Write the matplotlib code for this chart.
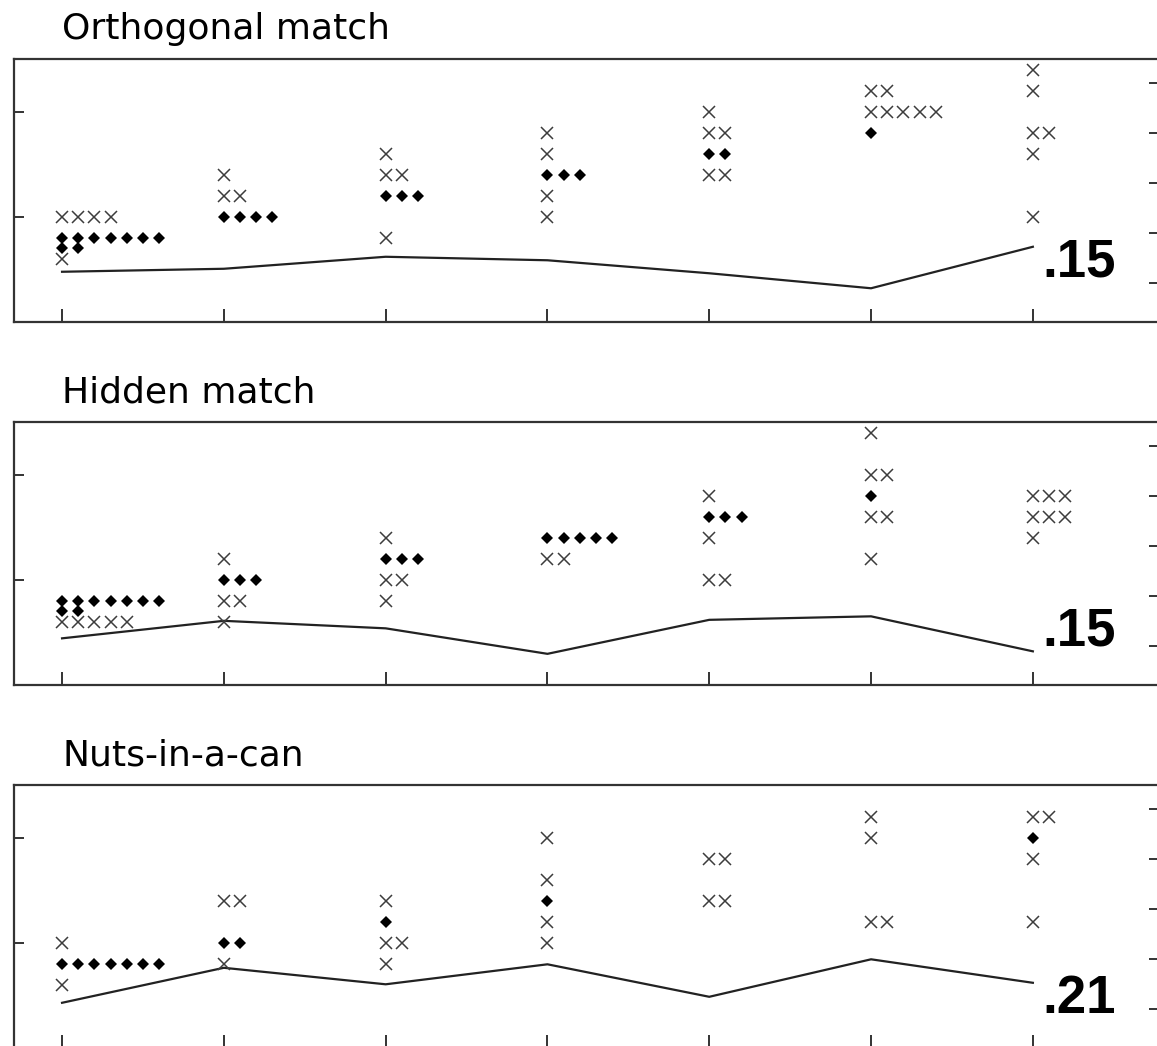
import numpy as np
import matplotlib
matplotlib.use("Agg")
import matplotlib.pyplot as plt
from matplotlib.transforms import blended_transform_factory

# seven conditions along the x axis
categories = [1, 2, 3, 4, 5, 6, 7]
panel_titles = ["Orthogonal match", "Hidden match", "Nuts-in-a-can"]
corr_labels = [".15", ".15", ".21"]

# gray crosses: (category, rating, how many side by side)
orth_cross = [(1, 4.0, 4), (1, 3.6, 1), (2, 4.4, 1), (2, 4.2, 2),
              (3, 4.6, 1), (3, 4.4, 2), (3, 3.8, 1),
              (4, 4.8, 1), (4, 4.6, 1), (4, 4.2, 1), (4, 4.0, 1),
              (5, 5.0, 1), (5, 4.8, 2), (5, 4.4, 2),
              (6, 5.2, 2), (6, 5.0, 5),
              (7, 5.4, 1), (7, 5.2, 1), (7, 4.8, 2), (7, 4.6, 1), (7, 4.0, 1)]
# black diamonds
orth_diam = [(1, 3.8, 7), (1, 3.7, 2), (2, 4.0, 4), (3, 4.2, 3),
             (4, 4.4, 3), (5, 4.6, 2), (6, 4.8, 1)]
orth_line = [1.23, 1.29, 1.53, 1.46, 1.20, 0.90, 1.73]

hidden_cross = [(1, 3.6, 5), (2, 4.2, 1), (2, 3.8, 2), (2, 3.6, 1),
                (3, 4.4, 1), (3, 4.0, 2), (3, 3.8, 1),
                (4, 4.2, 2),
                (5, 4.8, 1), (5, 4.4, 1), (5, 4.0, 2),
                (6, 5.4, 1), (6, 5.0, 2), (6, 4.6, 2), (6, 4.2, 1),
                (7, 4.8, 3), (7, 4.6, 3), (7, 4.4, 1)]
hidden_diam = [(1, 3.8, 7), (1, 3.7, 2), (2, 4.0, 3), (3, 4.2, 3),
               (4, 4.4, 5), (5, 4.6, 3), (6, 4.8, 1)]
hidden_line = [1.16, 1.51, 1.36, 0.85, 1.53, 1.60, 0.90]

nuts_cross = [(1, 4.0, 1), (1, 3.6, 1), (2, 4.4, 2), (2, 3.8, 1),
              (3, 4.4, 1), (3, 4.0, 2), (3, 3.8, 1),
              (4, 5.0, 1), (4, 4.6, 1), (4, 4.2, 1), (4, 4.0, 1),
              (5, 4.8, 2), (5, 4.4, 2),
              (6, 5.2, 1), (6, 5.0, 1), (6, 4.2, 2),
              (7, 5.2, 2), (7, 4.8, 1), (7, 4.2, 1)]
nuts_diam = [(1, 3.8, 7), (2, 4.0, 2), (3, 4.2, 1), (4, 4.4, 1), (7, 5.0, 1)]
nuts_line = [1.13, 1.83, 1.50, 1.90, 1.25, 2.00, 1.53]

panels = [(orth_cross, orth_diam, orth_line),
          (hidden_cross, hidden_diam, hidden_line),
          (nuts_cross, nuts_diam, nuts_line)]

# layout only
bottoms = [0.6922, 0.3451, -0.0019]
label_y = [0.171, 0.152, 0.133]
step = 0.1

fig = plt.figure(figsize=(11.57, 10.46), dpi=100)

def expand(groups):
    xs, ys = [], []
    for c, v, n in groups:
        xs.extend(c + step * np.arange(n))
        ys.extend([v] * n)
    return xs, ys

for i, (cross, diam, line) in enumerate(panels):
    ax = fig.add_axes([0.0121, bottoms[i], 0.9922, 0.2514])
    ax2 = ax.twinx()

    ax2.plot(categories, line, color="#222222", lw=1.6, zorder=1)

    xs, ys = expand(cross)
    ax.plot(xs, ys, ls="none", marker="x", ms=8.0, mew=1.1, color="#3c3c3c", zorder=3)
    xs, ys = expand(diam)
    ax.plot(xs, ys, ls="none", marker="D", ms=6.0, color="black", mew=0, zorder=4)

    ax.set_zorder(ax2.get_zorder() + 1)
    ax.patch.set_visible(False)

    ax.set_xlim(0.703, 7.798)
    ax.set_ylim(3, 5.5)
    ax2.set_ylim(0.226, 5.486)
    ax.set_xticks(categories)
    ax.set_yticks([4, 5])
    ax2.set_yticks([1, 2, 3, 4, 5])
    ax.tick_params(axis="y", direction="in", length=7.2, width=1.4, color="#333333",
                   labelleft=False, right=False)
    ax.tick_params(axis="x", direction="in", length=9.4, width=1.4, color="#333333",
                   labelbottom=False, top=False)
    ax2.tick_params(axis="y", direction="in", length=9.4, width=1.4, color="#333333",
                    labelright=False)
    for s in ax.spines.values():
        s.set_color("#333333")
        s.set_linewidth(1.6)
    for s in ax2.spines.values():
        s.set_visible(False)

    tr = blended_transform_factory(ax.transData, ax.transAxes)
    ax.text(1.0, 1.075, panel_titles[i], transform=tr, ha="left", va="baseline",
            fontsize=26, family="DejaVu Sans", color="black")
    ax.text(7.06, label_y[i], corr_labels[i], transform=tr, ha="left", va="baseline",
            fontsize=38, fontweight="bold", family="Liberation Sans", color="black")

fig.savefig("out.png", dpi=100)
